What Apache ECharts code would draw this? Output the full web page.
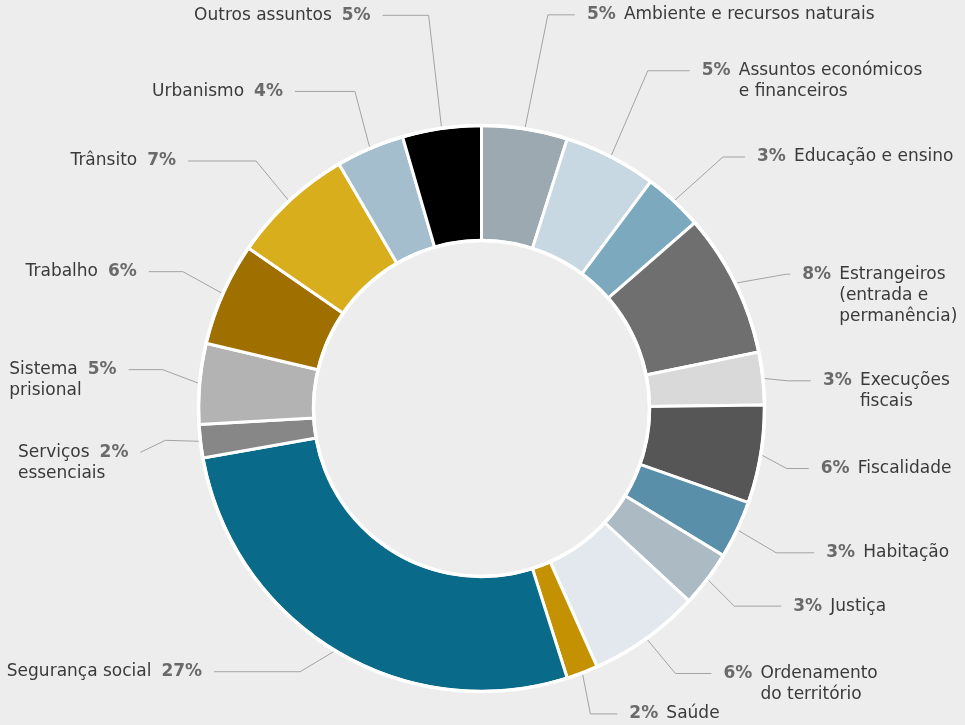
<!DOCTYPE html>
<html lang="pt">
<head>
<meta charset="utf-8">
<title>Distribuição por assunto</title>
<script src="https://cdn.jsdelivr.net/npm/echarts@6/dist/echarts.min.js"></script>
<style>
  html, body { margin: 0; padding: 0; background: #ededed; }
  #chart { width: 965px; height: 725px; }
</style>
</head>
<body>
<div id="chart"></div>
<script>
// Subjects, clockwise from twelve o'clock
const categories = [
  'Ambiente e recursos naturais',
  'Assuntos económicos\ne financeiros',
  'Educação e ensino',
  'Estrangeiros\n(entrada e\npermanência)',
  'Execuções\nfiscais',
  'Fiscalidade',
  'Habitação',
  'Justiça',
  'Ordenamento\ndo território',
  'Saúde',
  'Segurança social',
  'Serviços\nessenciais',
  'Sistema\nprisional',
  'Trabalho',
  'Trânsito',
  'Urbanismo',
  'Outros assuntos'
];

// Share of each subject (%)
const shares = [4.9, 5.3, 3.4, 8.2, 3.0, 5.6, 3.3, 3.2, 6.4, 1.8, 27.1, 1.9, 4.6, 5.9, 7.0, 3.9, 4.5];

const sliceColors = [
  '#9ca9b1', '#c8d8e2', '#7da9bf', '#6f6f6f', '#d9d9d9', '#565656',
  '#5a8faa', '#acbac3', '#e2e8ed', '#c49102', '#0a6a89', '#878787',
  '#b3b3b3', '#9f6f00', '#d9ae1c', '#a5becd', '#000000'
];

// Leader line shape per label: elbow offset from the slice anchor [dx, dy],
// then the run towards the text [dx, dy]
const leaders = [
  [23, -114, 27, 0],
  [37, -86, 42, 0],
  [49, -44, 22, 0],
  [51, -9, 4, 0],
  [25, 2.5, 23, 0],
  [26, 14, 22, 0],
  [39, 23, 38, 0],
  [27, 27, 47, 0],
  [29, 35, 36, 0],
  [8, 41, 27, 0],
  [-35, 21, -86, 0],
  [-35, -1, -25, 12],
  [-37, -14, -34, 0],
  [-40, -22, -34, 0],
  [-33, -40, -68, 0],
  [-15, -57, -60, 0],
  [-13, -113, -46, 0]
];

const FONT = 'DejaVu Sans';
const CX = 481.5, CY = 408.5;
const LABEL_GAP = 12;

const total = shares.reduce((a, b) => a + b, 0);
let acc = 0;
const onRight = shares.map(v => {
  const mid = (acc + v / 2) / total;
  acc += v;
  return mid < 0.5;
});

function labelText(i) {
  const pct = Math.round(shares[i]) + '%';
  const lines = categories[i].split('\n');
  if (onRight[i]) {
    return lines.map((ln, k) => (k === 0 ? '{pr|' + pct + '}' : '{sp| }') + '{n|' + ln + '}').join('\n');
  }
  return lines.map((ln, k) => k === 0 ? '{n|' + ln + '}{pl|' + pct + '}' : '{nl|' + ln + '}').join('\n');
}

const chart = echarts.init(document.getElementById('chart'), null, { renderer: 'canvas' });

chart.setOption({
  backgroundColor: '#ededed',
  animation: false,
  series: [
    {
      type: 'pie',
      center: [CX, CY],
      radius: [168, 283],
      startAngle: 90,
      clockwise: true,
      avoidLabelOverlap: false,
      emphasis: { disabled: true },
      itemStyle: { borderColor: '#ffffff', borderWidth: 3 },
      data: categories.map((name, i) => ({
        name: name,
        value: shares[i],
        itemStyle: { color: sliceColors[i] }
      })),
      label: {
        show: true,
        formatter: p => labelText(p.dataIndex),
        fontFamily: FONT,
        fontSize: 17,
        lineHeight: 21,
        color: '#3a3a3a',
        rich: {
          n: { fontFamily: FONT, fontSize: 17, lineHeight: 21, color: '#3a3a3a' },
          nl: { fontFamily: FONT, fontSize: 17, lineHeight: 21, color: '#3a3a3a', align: 'left' },
          pr: { fontFamily: FONT, fontSize: 17, fontWeight: 'bold', lineHeight: 21, color: '#6a6a6a', width: 37, align: 'left' },
          pl: { fontFamily: FONT, fontSize: 17, fontWeight: 'bold', lineHeight: 21, color: '#6a6a6a', padding: [0, 0, 0, 10] },
          sp: { fontFamily: FONT, fontSize: 17, lineHeight: 21, width: 37 }
        }
      },
      labelLine: {
        show: true,
        length: 20,
        length2: 20,
        lineStyle: { color: '#a3a3a3', width: 1 }
      },
      labelLayout: function (params) {
        const pts = params.labelLinePoints;
        if (!pts) return {};
        const i = params.dataIndex;
        const L = leaders[i];
        const a = pts[0];
        const e = [a[0] + L[0], a[1] + L[1]];
        const r = [e[0] + L[2], e[1] + L[3]];
        const right = onRight[i];
        return {
          x: r[0] + (right ? LABEL_GAP : -LABEL_GAP),
          y: r[1] - 10.5,
          align: right ? 'left' : 'right',
          verticalAlign: 'top',
          labelLinePoints: [a, e, r]
        };
      },
      z: 2
    },
    {
      // white rim along the outer and inner edge of the ring
      type: 'pie',
      center: [CX, CY],
      radius: [168, 283],
      silent: true,
      emphasis: { disabled: true },
      itemStyle: { color: 'rgba(0,0,0,0)', borderColor: '#ffffff', borderWidth: 3.5 },
      label: { show: false },
      labelLine: { show: false },
      data: [{ value: 1, name: '' }],
      z: 3
    }
  ]
});
</script>
</body>
</html>
